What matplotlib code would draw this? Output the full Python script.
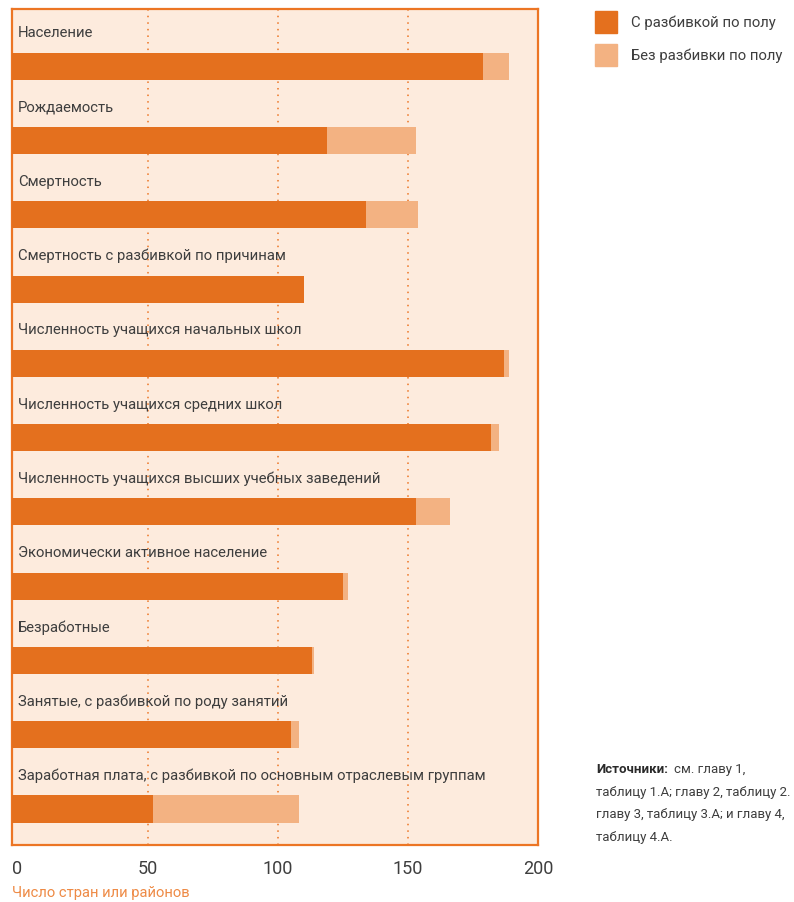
import matplotlib
matplotlib.use("Agg")
import matplotlib.pyplot as plt
from matplotlib.patches import Rectangle

categories = [
    "Население",
    "Рождаемость",
    "Смертность",
    "Смертность с разбивкой по причинам",
    "Численность учащихся начальных школ",
    "Численность учащихся средних школ",
    "Численность учащихся высших учебных заведений",
    "Экономически активное население",
    "Безработные",
    "Занятые, с разбивкой по роду занятий",
    "Заработная плата, с разбивкой по основным отраслевым группам",
]
with_sex = [179, 119, 134, 110, 187, 182, 153, 125, 113, 105, 52]
total = [189, 153, 154, 110, 189, 185, 166, 127, 114, 108, 108]
without_sex = [t - w for t, w in zip(total, with_sex)]
xticks = [0, 50, 100, 150, 200]
legend_labels = ["С разбивкой по полу", "Без разбивки по полу"]
xlabel = "Число стран или районов"
source_head = "Источники:"
source_lines = ["см. главу 1,", "таблицу 1.A; главу 2, таблицу 2.",
                "главу 3, таблицу 3.A; и главу 4,", "таблицу 4.A."]

DARK = "#E4701E"
LIGHT = "#F3B282"
BG = "#FDEBDD"
FRAME = "#EC7524"
TXT = "#3E3E3E"
FAM = ["Roboto", "DejaVu Sans"]
plt.rcParams["font.family"] = FAM

W, H = 794, 903
fig = plt.figure(figsize=(W / 100, H / 100), dpi=100)
renderer = fig.canvas.get_renderer()


def fit(texts, target_px, ref_idx=0, max_size=14.5):
    t = texts[ref_idx]
    w = t.get_window_extent(renderer).width
    size = min(max_size, t.get_fontsize() * target_px / w)
    for tt in texts:
        tt.set_fontsize(size)
    return size


ax = fig.add_axes([12 / W, 1 - 846 / H, 526 / W, 836 / H])
ax.set_facecolor(BG)
xmin, xmax = -2.1, 200
ax.set_xlim(xmin, xmax)
ax.set_ylim(10.485, -0.774)

ys = list(range(len(categories)))
ax.barh(ys, [w - xmin for w in with_sex], left=xmin, height=0.364,
        color=DARK, zorder=3)
ax.barh(ys, without_sex, left=with_sex, height=0.364, color=LIGHT, zorder=3)

for g in xticks[1:-1]:
    ax.axvline(g, color=FRAME, lw=1.1, ls=(0, (1, 3.3)), zorder=1)

labels = []
for y, c in zip(ys, categories):
    labels.append(ax.text(0.2, y - 0.46, c, ha="left", va="center",
                          fontsize=14, color=TXT, zorder=4))
fit(labels, 473, ref_idx=len(labels) - 1)

for s in ax.spines.values():
    s.set_color(FRAME)
    s.set_linewidth(1.6)
ax.set_yticks([])
ax.set_xticks(xticks)
ax.set_xticklabels([str(t) for t in xticks], fontsize=13, color=TXT)
ax.tick_params(axis="x", length=0, pad=10)

xl = fig.text(12 / W, 1 - 893 / H, xlabel, ha="left", va="center",
              fontsize=14, color="#EE8A45")
fit([xl], 179)

# legend
leg_texts = []
for i, (lab, col) in enumerate(zip(legend_labels, [DARK, LIGHT])):
    yc = 23 + 33 * i
    fig.patches.append(Rectangle((595 / W, 1 - (yc + 11) / H), 22 / W, 22 / H,
                                 transform=fig.transFigure, color=col))
    leg_texts.append(fig.text(631 / W, 1 - yc / H, lab, ha="left",
                              va="center", fontsize=14, color=TXT))
fit(leg_texts, 153, ref_idx=1)

# source note
src = []
for k, ln in enumerate(source_lines):
    src.append(fig.text(596 / W, 1 - (770 + 22.5 * k) / H, ln, ha="left",
                        va="center", fontsize=12, color=TXT))
size = fit(src, 194, ref_idx=1)
t0 = fig.text(596 / W, 1 - 770 / H, source_head, ha="left", va="center",
              fontsize=size, color="#2a2a2a", fontweight="bold")
bb = t0.get_window_extent(renderer)
src[0].set_x((bb.x1 + 6) / W)

fig.savefig("out.png", dpi=100, facecolor="white")
